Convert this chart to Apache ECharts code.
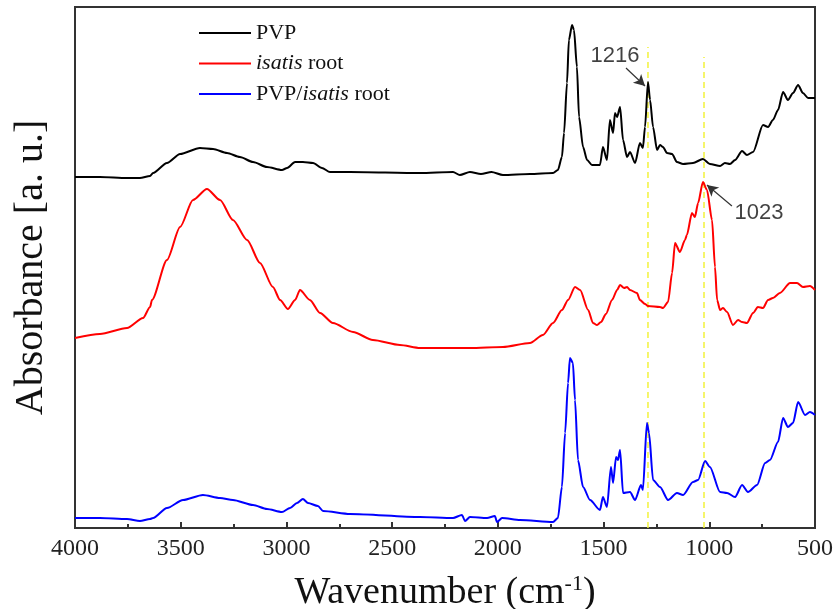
<!DOCTYPE html>
<html>
<head>
<meta charset="utf-8">
<script src="https://cdn.jsdelivr.net/npm/echarts@6/dist/echarts.min.js"></script>
<style>
  html, body { margin: 0; padding: 0; background: #fff; }
  #chart { width: 834px; height: 609px; }
</style>
</head>
<body>
<div id="chart"></div>
<script>
// ---- data: [wavenumber (cm-1), absorbance (a.u., offset stacked)] ----
const xTicks = [4000, 3500, 3000, 2500, 2000, 1500, 1000, 500];

const pvp = [
  [4000,351],[3882,351],[3754,350],[3693,350],[3645,352],[3631,355],[3565,365],[3503,374],
  [3409,380],[3347,379],[3281,375],[3220,371],[3158,366],[3092,361],[3021,358],[2997,360],
  [2959,366],[2922,366],[2874,365],[2832,360],[2794,356],[2699,356],[2368,355],[2212,356],
  [2180,353],[2132,356],[2080,354],[2030,356],[1976,353],[1848,354],[1739,355],[1716,358],
  [1697,371],[1687,395],[1673,445],[1664,488],[1649,503],[1640,498],[1626,461],[1616,411],
  [1597,381],[1578,368],[1555,363],[1517,363],[1503,381],[1484,368],[1470,408],[1455,395],
  [1446,415],[1436,411],[1422,421],[1408,388],[1389,371],[1375,376],[1351,365],[1328,385],
  [1314,380],[1304,401],[1290,446],[1280,428],[1266,401],[1247,378],[1233,383],[1219,381],
  [1200,375],[1176,374],[1153,366],[1124,364],[1077,365],[1030,369],[997,364],[949,362],
  [926,365],[902,364],[878,368],[845,377],[822,373],[793,376],[746,403],[722,401],[699,408],
  [675,418],[651,436],[628,428],[604,435],[580,443],[557,435],[533,430],[509,430],[500,430]
];

const isatis = [
  [4000,190],[3882,194],[3754,200],[3678,210],[3645,221],[3636,228],[3565,268],[3503,301],
  [3442,328],[3376,339],[3314,328],[3253,308],[3186,288],[3125,265],[3064,241],[3030,228],
  [2993,219],[2959,228],[2936,238],[2889,228],[2841,215],[2780,205],[2685,196],[2591,188],
  [2463,183],[2368,180],[2132,180],[1976,181],[1848,185],[1787,193],[1739,205],[1697,218],
  [1668,228],[1635,241],[1611,238],[1573,218],[1550,205],[1531,203],[1512,206],[1489,214],
  [1460,228],[1436,238],[1422,243],[1403,240],[1389,241],[1375,238],[1342,235],[1328,228],
  [1304,224],[1290,222],[1233,221],[1219,220],[1195,226],[1176,255],[1162,285],[1139,276],
  [1115,288],[1106,293],[1082,315],[1068,311],[1053,325],[1030,346],[1011,338],[987,308],
  [973,261],[963,228],[949,218],[935,220],[916,216],[888,203],[864,208],[845,206],[822,205],
  [793,215],[770,221],[746,220],[722,228],[699,230],[666,235],[618,245],[585,245],[557,241],
  [524,242],[500,238]
];

const pvpIsatis = [
  [4000,10],[3882,10],[3754,9],[3693,7],[3645,9],[3631,10],[3565,20],[3489,28],[3395,33],
  [3314,30],[3253,28],[3158,23],[3092,19],[3021,16],[2983,20],[2950,25],[2922,29],[2898,25],
  [2851,22],[2827,17],[2699,14],[2368,11],[2212,10],[2170,13],[2155,7],[2132,11],[2051,10],
  [2014,12],[2004,6],[1980,10],[1895,8],[1739,6],[1716,10],[1697,41],[1682,95],[1668,145],
  [1659,170],[1645,165],[1635,128],[1621,68],[1597,41],[1564,28],[1517,18],[1503,31],
  [1484,21],[1465,61],[1455,45],[1441,71],[1432,68],[1422,78],[1408,35],[1375,36],[1351,28],
  [1323,43],[1314,38],[1295,105],[1285,95],[1266,48],[1233,41],[1195,28],[1153,35],[1124,33],
  [1077,46],[1053,48],[1020,67],[997,61],[949,36],[916,35],[878,31],[845,43],[817,36],
  [774,43],[736,65],[713,68],[675,86],[651,110],[628,101],[604,105],[580,126],[547,113],
  [524,116],[500,113]
];

// reference (dashed) lines: [wavenumber, top of line]
const refLines = [[1290, 481], [1025, 471]];
// annotations: [x, y, label], arrows: [start, tip]
const annoLabels = [[1446, 472, '1216'], [765, 315, '1023']];
const annoArrows = [
  [[1394, 460], [1304, 442]],
  [[893, 322], [1011, 343]]
];

const serif = '"Liberation Serif", "Times New Roman", serif';
const sans = '"Liberation Sans", Arial, sans-serif';

const chart = echarts.init(document.getElementById('chart'), null, { renderer: 'canvas' });

const seriesLine = (name, data, color) => ({
  name, type: 'line', data, symbol: 'none', smooth: 0.25, smoothMonotone: 'x',
  lineStyle: { color, width: 2 }, itemStyle: { color }, z: 3
});

const series = [
  seriesLine('PVP', pvp, '#000000'),
  seriesLine('isatis root', isatis, '#ff0000'),
  seriesLine('PVP/isatis root', pvpIsatis, '#0000ff')
];

refLines.forEach((r, i) => {
  series.push({
    name: 'ref' + i, type: 'line', symbol: 'none', z: 2,
    data: [[r[0], 0], [r[0], r[1]]],
    lineStyle: { color: '#f2f23a', width: 1.5, type: [6, 4] }
  });
});

series.push({
  name: 'anno', type: 'scatter', symbolSize: 0, z: 5,
  data: annoLabels,
  label: {
    show: true, position: 'inside', formatter: p => p.value[2],
    fontFamily: sans, fontSize: 22, color: '#111'
  },
  markLine: {
    silent: true, symbol: ['none', 'arrow'], symbolSize: [9, 11],
    lineStyle: { color: '#333', width: 1.2, type: 'solid' },
    label: { show: false },
    data: annoArrows.map(a => [{ coord: a[0] }, { coord: a[1] }])
  }
});

chart.setOption({
  animation: false,
  backgroundColor: '#fff',
  grid: {
    left: 75, right: 19, top: 7, bottom: 81, show: true, borderColor: '#333', borderWidth: 2,
    outerBoundsMode: 'none', containLabel: false
  },
  legend: {
    data: ['PVP', 'isatis root', 'PVP/isatis root'],
    orient: 'vertical', left: 194, top: 17, itemWidth: 52, itemHeight: 2, itemGap: 8.5,
    icon: 'rect',
    formatter: n => n.replace('isatis', '{i|isatis}'),
    textStyle: {
      fontFamily: serif, fontSize: 22, color: '#111',
      rich: { i: { fontFamily: serif, fontSize: 22, fontStyle: 'italic', color: '#111' } }
    }
  },
  xAxis: {
    type: 'value', inverse: true, min: 500, max: 4000, interval: 500,
    name: 'Wavenumber (cm{sup|-1})', nameLocation: 'middle', nameGap: 45,
    nameTextStyle: {
      fontFamily: serif, fontSize: 38, color: '#111',
      rich: { sup: { fontFamily: serif, fontSize: 22, color: '#111', padding: [0, 0, 18, 0] } }
    },
    axisLine: { show: true, onZero: false, lineStyle: { color: '#333', width: 2 } },
    axisTick: { show: true, inside: true, length: 6, lineStyle: { color: '#333', width: 2 } },
    minorTick: { show: true, splitNumber: 2, length: 4, lineStyle: { color: '#333', width: 2 } },
    axisLabel: {
      fontFamily: serif, fontSize: 24, color: '#222', margin: 9,
      formatter: v => (xTicks.indexOf(v) >= 0 ? String(v) : '')
    },
    splitLine: { show: false }
  },
  yAxis: {
    type: 'value', min: 0, max: 521,
    name: 'Absorbance [a. u.]', nameLocation: 'middle', nameGap: 24,
    nameTextStyle: { fontFamily: serif, fontSize: 40, color: '#111' },
    axisLine: { show: true, lineStyle: { color: '#333', width: 2 } },
    axisTick: { show: false }, axisLabel: { show: false }, splitLine: { show: false }
  },
  series
});
</script>
</body>
</html>
